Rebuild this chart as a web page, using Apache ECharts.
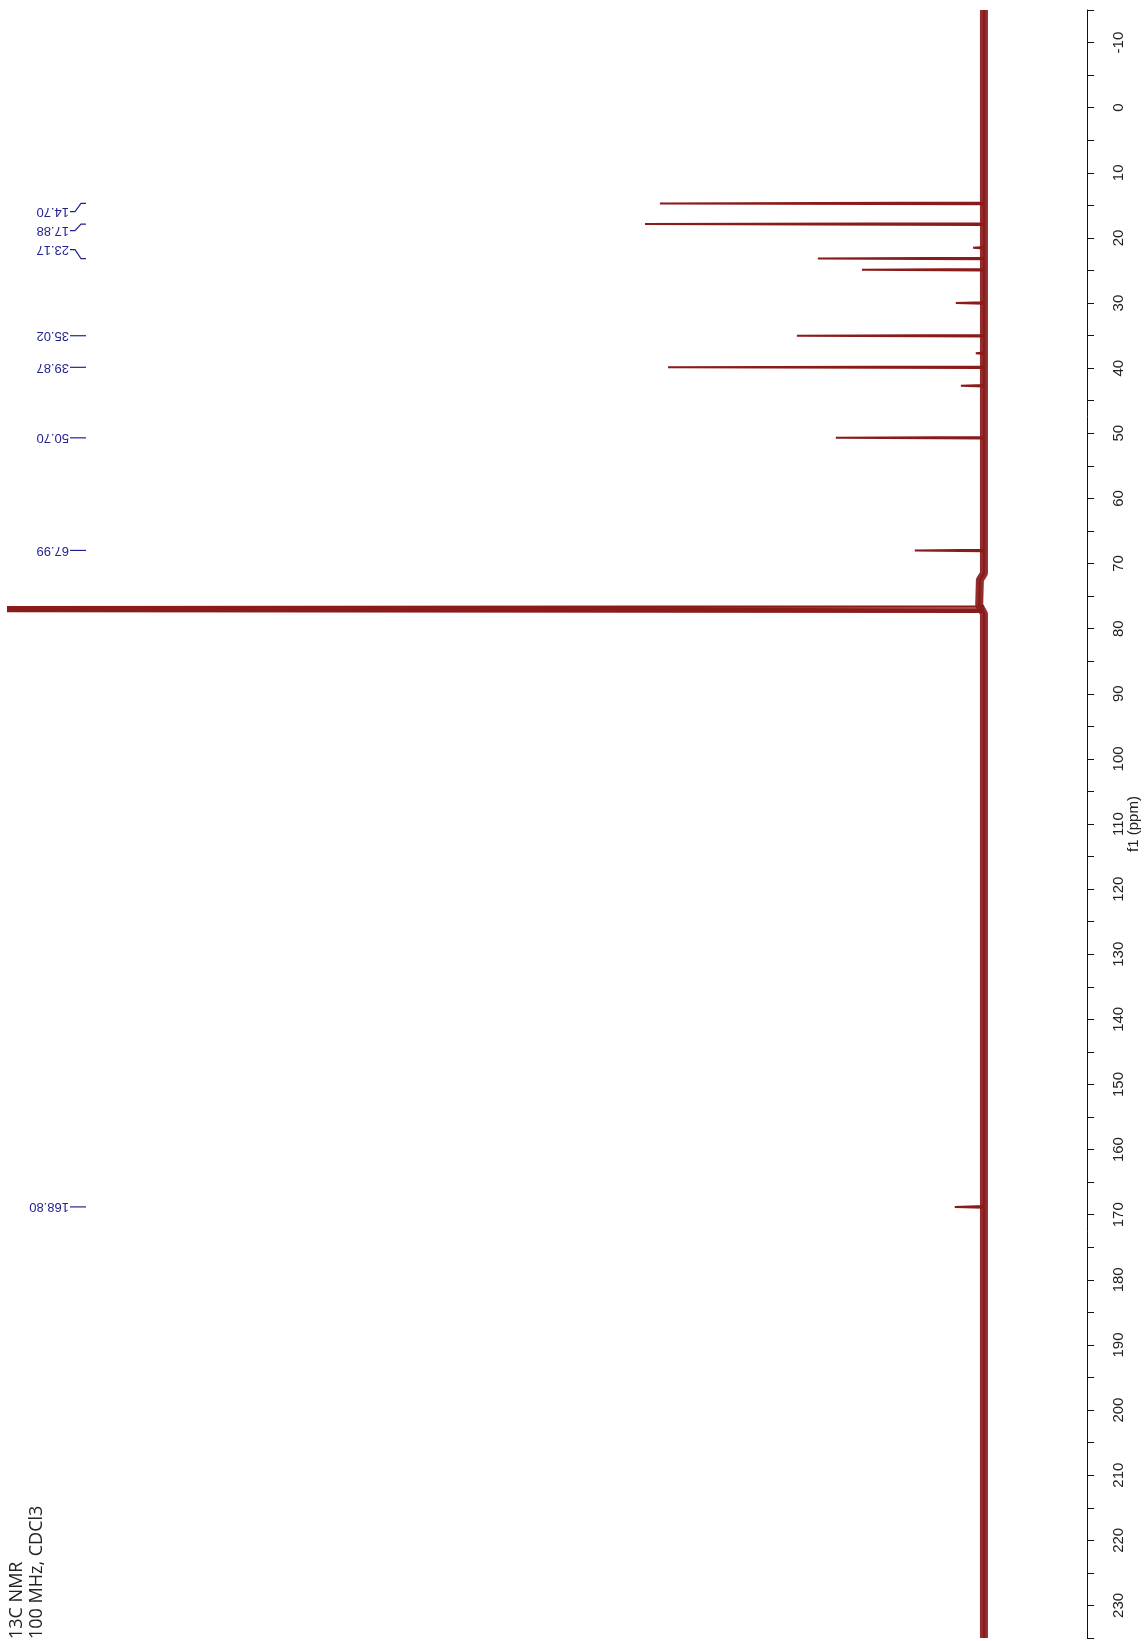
<!DOCTYPE html>
<html><head><meta charset="utf-8">
<script src="https://cdn.jsdelivr.net/npm/echarts@6/dist/echarts.min.js"></script>
<style>html,body{margin:0;padding:0;background:#fff}#c{width:1147px;height:1641px}</style>
</head><body><div id="c"></div>
<script>
// ---- data (ppm / relative intensity, 17.88 ppm = 100) ----
const peakShifts      = [14.70, 17.88, 21.5, 23.17, 24.9, 30.0, 35.02, 37.7, 39.87, 42.7, 50.70, 67.99, 76.68, 77.00, 77.32, 168.80];
const peakIntensities = [95.6,  100,   3.2,  49.0,  36.0, 8.3,  55.2,  2.4,  93.2,  6.8,  43.7,  20.4,  300,   300,   300,   8.6];
const baselineShifts  = [-15, 71.5, 72.5, 76.4, 77.7, 235];
const baselineLevels  = [0,   0,    1.2,  1.4,  0,    0];
const labelShifts = [14.70, 17.88, 23.17, 35.02, 39.87, 50.70, 67.99, 168.80];
const labelTexts  = ['14.70', '17.88', '23.17', '35.02', '39.87', '50.70', '67.99', '168.80'];
const labelGroups = [0, 0, 0, 1, 2, 3, 4, 5];
const titleLines = ['13C NMR', '100 MHz, CDCl3'];
const axisTitle = 'f1 (ppm)';

function buildSpectrum() {
  const pts = [];
  peakShifts.forEach((p, i) => {
    pts.push([0, p - 0.12], [peakIntensities[i], p], [0, p + 0.12]);
  });
  baselineShifts.forEach((p, i) => pts.push([baselineLevels[i], p]));
  pts.sort((a, b) => a[1] - b[1]);
  return pts;
}
function buildBaseline() {
  return baselineShifts.map((p, i) => [baselineLevels[i], p]);
}

const chart = echarts.init(document.getElementById('c'), null, {renderer: 'canvas'});
const option = {
  animation: false,
  backgroundColor: '#ffffff',
  grid: {left: 8, right: 60, top: 10, bottom: 3, outerBoundsMode: 'none'},
  xAxis: {type: 'value', inverse: true, min: -30.4, max: 287.9, show: false},
  yAxis: {
    type: 'value', inverse: true, min: -15, max: 235, interval: 5, position: 'right',
    axisLine: {show: true, onZero: false, lineStyle: {color: '#111', width: 1}},
    axisTick: {show: true, length: 7, lineStyle: {color: '#111', width: 1}},
    axisLabel: {
      rotate: 90, margin: 24, fontSize: 15, color: '#222', fontFamily: 'Liberation Sans',
      formatter: v => (v % 10 === 0 ? String(v) : '')
    },
    splitLine: {show: false},
    name: axisTitle, nameLocation: 'middle', nameRotate: 90, nameGap: 39,
    nameMoveOverlap: false,
    nameTextStyle: {fontSize: 15, color: '#222', fontFamily: 'Liberation Sans'}
  },
  series: [
    {
      type: 'line', data: buildBaseline(), showSymbol: false, silent: true,
      lineStyle: {color: '#861616', width: 8, opacity: 0.9}, z: 1
    },
    {
      type: 'line', data: buildSpectrum(), showSymbol: false, clip: true, silent: true,
      lineStyle: {color: '#8b1a1a', width: 2}, z: 2
    }
  ]
};
chart.setOption(option);

// ---- peak labels (upside-down, as in the reference) ----
const toY = p => chart.convertToPixel({xAxisIndex: 0, yAxisIndex: 0}, [0, p])[1];
const peakY = labelShifts.map(toY);
const labelY = peakY.slice();
const groups = {};
labelGroups.forEach((g, i) => { (groups[g] = groups[g] || []).push(i); });
Object.values(groups).forEach(idx => {
  if (idx.length > 1) {
    const mean = idx.reduce((s, i) => s + peakY[i], 0) / idx.length;
    idx.forEach((i, k) => { labelY[i] = mean + 2 + (k - (idx.length - 1) / 2) * 19; });
  }
});
const graphics = [];
labelTexts.forEach((t, i) => {
  graphics.push({
    type: 'text', x: 69, y: labelY[i], rotation: Math.PI,
    style: {text: t, fontSize: 13, fontFamily: 'Liberation Sans', fill: '#23238f', align: 'left', verticalAlign: 'middle'}
  });
  graphics.push({
    type: 'polyline',
    shape: {points: [[70, labelY[i]], [75, labelY[i]], [81, peakY[i]], [86, peakY[i]]]},
    style: {stroke: '#23238f', lineWidth: 1.2, fill: null}
  });
});
graphics.push({
  type: 'text', x: 7, y: 1639, rotation: Math.PI / 2,
  style: {text: titleLines.join('\n'), fontSize: 18, lineHeight: 20, fontFamily: 'Open Sans', fill: '#222', align: 'left', verticalAlign: 'top'}
});
chart.setOption({graphic: graphics});
</script>
</body></html>
